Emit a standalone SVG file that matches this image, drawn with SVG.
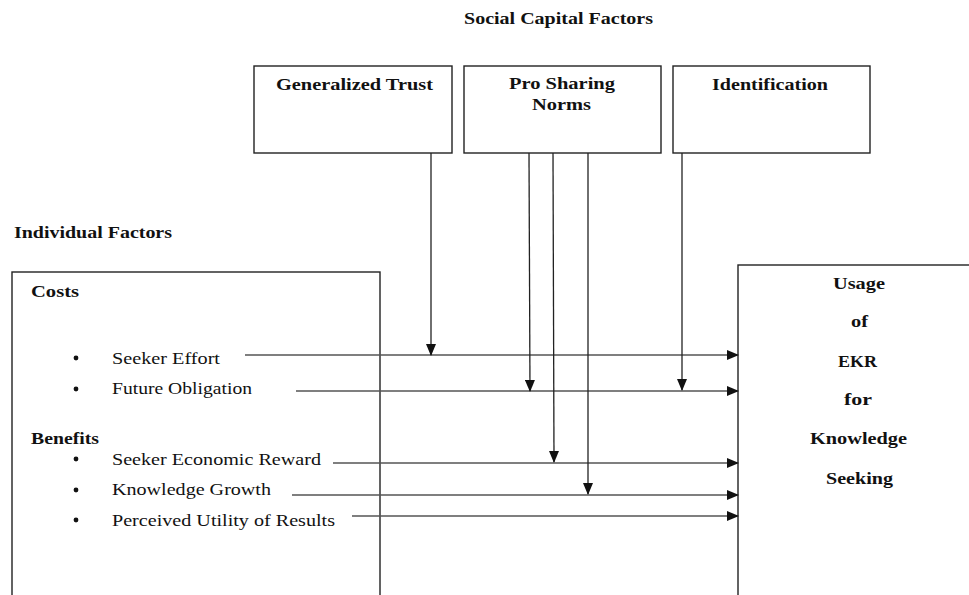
<svg xmlns="http://www.w3.org/2000/svg" width="969" height="595" viewBox="0 0 969 595">
<defs>
<style>
.box{fill:#fff;stroke:#222;stroke-width:1.4}
.t{font-family:"Liberation Serif","Times New Roman",serif;font-size:17px;fill:#111}
.b{font-weight:bold}
.m{text-anchor:middle}
.h{stroke:#555;stroke-width:1.6;fill:none}
.v{stroke:#222;stroke-width:1.3;fill:none}
</style>
<marker id="ah" markerWidth="12" markerHeight="10" refX="11" refY="5" orient="auto" markerUnits="userSpaceOnUse">
<path d="M0,0 L12,5 L0,10 Z" fill="#111"/>
</marker>
</defs>
<rect width="969" height="595" fill="#fff"/>
<text class="t b" x="464" y="24" textLength="189" lengthAdjust="spacingAndGlyphs">Social Capital Factors</text>
<text class="t b" x="14" y="238" textLength="158" lengthAdjust="spacingAndGlyphs">Individual Factors</text>

<g id="generalized-trust">
<rect class="box" x="254" y="66" width="198" height="87"/>
<text class="t b" x="276" y="90" textLength="157" lengthAdjust="spacingAndGlyphs">Generalized  Trust</text>
</g>
<g id="pro-sharing-norms">
<rect class="box" x="464" y="66" width="197" height="87"/>
<text class="t b" x="509" y="89" textLength="106" lengthAdjust="spacingAndGlyphs">Pro Sharing</text>
<text class="t b" x="532" y="110" textLength="59" lengthAdjust="spacingAndGlyphs">Norms</text>
</g>
<g id="identification">
<rect class="box" x="673" y="66" width="197" height="87"/>
<text class="t b" x="712" y="90" textLength="116" lengthAdjust="spacingAndGlyphs">Identification</text>
</g>

<g id="individual-factors">
<rect class="box" x="12" y="272" width="368" height="340"/>
<text class="t b" x="31" y="297" textLength="48" lengthAdjust="spacingAndGlyphs">Costs</text>
<circle cx="76" cy="358" r="2.4" fill="#111"/>
<text class="t" x="112" y="364" textLength="108" lengthAdjust="spacingAndGlyphs">Seeker Effort</text>
<circle cx="76" cy="389" r="2.4" fill="#111"/>
<text class="t" x="112" y="394" textLength="140" lengthAdjust="spacingAndGlyphs">Future Obligation</text>
<text class="t b" x="31" y="444" textLength="68" lengthAdjust="spacingAndGlyphs">Benefits</text>
<circle cx="76" cy="459" r="2.4" fill="#111"/>
<text class="t" x="112" y="465" textLength="209" lengthAdjust="spacingAndGlyphs">Seeker Economic Reward</text>
<circle cx="76" cy="490" r="2.4" fill="#111"/>
<text class="t" x="112" y="495" textLength="159" lengthAdjust="spacingAndGlyphs">Knowledge Growth</text>
<circle cx="76" cy="520" r="2.4" fill="#111"/>
<text class="t" x="112" y="526" textLength="223" lengthAdjust="spacingAndGlyphs">Perceived Utility  of Results</text>
</g>

<g id="usage-ekr">
<rect class="box" x="738" y="265" width="250" height="350"/>
<text class="t b" x="833" y="289" textLength="52" lengthAdjust="spacingAndGlyphs">Usage</text>
<text class="t b" x="851" y="327" textLength="17" lengthAdjust="spacingAndGlyphs">of</text>
<text class="t b" x="838" y="367" textLength="39" lengthAdjust="spacingAndGlyphs">EKR</text>
<text class="t b" x="844" y="405" textLength="28" lengthAdjust="spacingAndGlyphs">for</text>
<text class="t b" x="810" y="444" textLength="97" lengthAdjust="spacingAndGlyphs">Knowledge</text>
<text class="t b" x="826" y="484" textLength="67" lengthAdjust="spacingAndGlyphs">Seeking</text>
</g>

<g id="connectors">
<line class="h" x1="245" y1="355" x2="738" y2="355" marker-end="url(#ah)"/>
<line class="h" x1="296" y1="391" x2="738" y2="391" marker-end="url(#ah)"/>
<line class="h" x1="333" y1="463" x2="738" y2="463" marker-end="url(#ah)"/>
<line class="h" x1="292" y1="495" x2="738" y2="495" marker-end="url(#ah)"/>
<line class="h" x1="352" y1="516" x2="738" y2="516" marker-end="url(#ah)"/>
<line class="v" x1="431" y1="153" x2="431" y2="355" marker-end="url(#ah)"/>
<line class="v" x1="529" y1="153" x2="530" y2="391" marker-end="url(#ah)"/>
<line class="v" x1="553" y1="153" x2="554" y2="462" marker-end="url(#ah)"/>
<line class="v" x1="588" y1="153" x2="588" y2="494" marker-end="url(#ah)"/>
<line class="v" x1="682" y1="153" x2="682" y2="390" marker-end="url(#ah)"/>
</g>
</svg>
